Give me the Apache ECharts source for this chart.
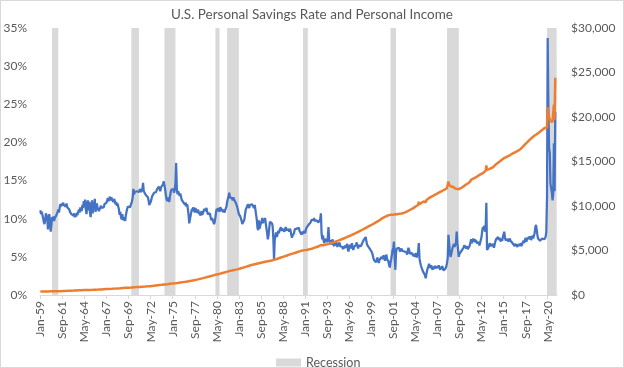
<!DOCTYPE html>
<html>
<head>
<meta charset="utf-8">
<script src="https://cdn.jsdelivr.net/npm/echarts@6/dist/echarts.min.js"></script>
<style>
  html, body { margin: 0; padding: 0; background: #fff; }
  #wrap { position: relative; width: 624px; height: 368px; }
  #chart { position: absolute; left: 0; top: 0; width: 624px; height: 368px; }
  #frame { position: absolute; left: 0; top: 0; width: 622px; height: 366px; border: 1px solid #d9d9d9; pointer-events: none; }
</style>
</head>
<body>
<div id="wrap"><div id="chart"></div><div id="frame"></div></div>
<script>
// ---- Data ----
const titleText = 'U.S. Personal Savings Rate and Personal Income';
const monthNames = ['Jan','Feb','Mar','Apr','May','Jun','Jul','Aug','Sep','Oct','Nov','Dec'];
const firstYear = 1959;
const categoryCount = 750; // monthly categories Jan-59 .. Jun-21
const tickLabels = ['Jan-59','Sep-61','May-64','Jan-67','Sep-69','May-72','Jan-75','Sep-77','May-80','Jan-83','Sep-85','May-88',
                    'Jan-91','Sep-93','May-96','Jan-99','Sep-01','May-04','Jan-07','Sep-09','May-12','Jan-15','Sep-17','May-20'];
const leftTicks = [0, 5, 10, 15, 20, 25, 30, 35];
const rightTicks = [0, 5000, 10000, 15000, 20000, 25000, 30000];

// Recession shading periods (category names)
const recessions = [
  ['Jun-60','Mar-61'], ['Jan-70','Dec-70'], ['Jan-74','May-75'], ['Mar-80','Sep-80'],
  ['Aug-81','Jan-83'], ['Oct-90','May-91'], ['May-01','Jan-02'], ['Mar-08','Aug-09'], ['Apr-20','Jun-21']
];

// Personal savings rate, %, one row per year (12 months)
const savingsRate = [
  [11.1,10.6,10.9,10.5,10.4,9.6,9.3,9.8,10.7,10.9,10.2,8.6],
  [9.9,10.6,9.4,8.3,9.1,10.2,9.8,10.3,9.7,10.1,9.9,10.4],
  [10.6,10.9,11.2,10.8,11.4,11.9,11.6,12.0,11.7,12.1,11.8,11.9],
  [11.8,11.6,12.0,11.5,11.3,11.7,11.2,10.9,11.0,10.6,10.8,10.5],
  [10.4,10.7,10.2,10.6,10.3,10.8,10.5,10.9,11.2,10.8,11.5,11.3],
  [11.0,11.8,11.4,12.3,11.6,12.5,11.2,10.6,11.9,12.4,11.1,12.2],
  [10.8,10.2,11.5,12.4,10.7,12.1,11.6,12.6,10.9,11.3,12.0,11.4],
  [11.3,11.0,10.8,11.2,11.7,11.4,11.6,11.2,11.5,11.9,11.7,12.0],
  [12.1,12.4,12.7,12.3,12.6,12.9,12.4,12.8,12.5,12.7,12.2,12.6],
  [12.3,11.9,12.2,11.7,12.0,11.8,11.2,10.5,10.9,10.2,9.9,10.6],
  [9.8,9.6,10.2,9.7,10.4,10.9,11.3,11.6,11.4,11.8,11.5,11.7],
  [12.0,12.3,12.8,13.9,13.2,13.5,13.7,13.3,13.6,13.4,13.8,13.5],
  [13.6,13.9,13.5,13.7,13.9,14.7,13.6,13.8,13.4,13.1,13.3,12.9],
  [12.8,12.4,11.8,11.6,12.2,12.5,12.9,13.1,12.7,13.4,13.2,13.6],
  [13.5,13.8,14.0,13.7,14.2,14.0,13.6,14.1,13.9,14.3,14.5,14.9],
  [14.8,13.9,13.2,12.6,12.3,12.8,12.5,12.2,12.9,13.4,13.8,14.0],
  [13.7,13.9,13.4,13.8,14.6,17.3,13.9,13.2,13.6,13.4,13.0,13.3],
  [12.9,12.5,12.7,12.2,12.4,12.0,11.8,12.1,11.6,11.9,11.3,10.5],
  [9.4,9.6,10.4,10.9,11.3,11.0,11.5,11.2,10.8,11.4,11.1,11.0],
  [10.8,11.2,10.6,10.9,10.4,10.7,11.0,10.5,10.8,10.9,11.3,11.0],
  [11.1,11.4,10.9,10.6,10.8,10.5,10.7,10.2,9.8,10.1,9.9,10.3],
  [9.3,9.6,10.2,10.9,11.3,11.0,11.4,11.2,10.9,11.5,11.3,11.2],
  [11.0,10.9,11.2,10.8,11.1,11.3,11.6,12.2,12.6,12.9,13.4,12.8],
  [12.6,13.0,12.7,12.4,12.8,12.5,12.3,12.6,12.0,11.7,11.4,11.0],
  [10.6,10.8,10.3,10.1,9.7,9.3,9.2,9.5,9.9,10.6,11.2,11.0],
  [11.6,11.9,11.7,11.4,11.8,12.0,11.6,11.9,12.1,11.7,11.4,11.8],
  [11.2,10.5,9.9,8.8,8.5,9.8,8.7,9.1,8.9,9.7,10.1,9.4],
  [9.9,9.6,10.1,9.4,9.2,8.1,7.3,7.8,8.0,9.6,9.8,9.5],
  [9.4,9.0,7.4,4.6,7.2,7.8,8.2,7.6,7.9,8.4,8.1,8.5],
  [8.6,8.9,8.4,8.7,8.5,8.8,8.3,8.6,8.9,8.5,8.7,8.4],
  [8.6,8.3,8.7,8.4,7.9,7.5,7.8,7.6,8.1,8.6,8.8,8.4],
  [8.7,8.9,8.5,8.8,8.4,8.6,8.2,7.9,8.3,8.0,8.4,8.2],
  [8.1,8.5,8.8,9.0,8.7,9.2,9.4,9.1,9.5,9.8,9.6,10.0],
  [9.8,10.1,9.7,9.9,9.6,9.8,10.0,9.5,9.7,9.4,9.9,10.7],
  [8.0,7.3,7.8,7.1,6.8,7.4,7.0,7.3,6.9,7.5,8.9,7.2],
  [6.9,7.2,6.6,6.9,7.3,6.7,6.4,6.8,6.5,7.0,6.6,6.3],
  [6.8,6.5,6.9,6.4,6.2,6.6,6.3,6.0,6.4,6.1,6.5,6.2],
  [6.3,6.7,6.0,5.7,6.2,6.6,6.1,6.4,6.8,6.2,5.9,6.3],
  [6.5,6.2,6.6,6.9,6.4,6.1,6.5,6.3,6.7,6.4,6.6,6.8],
  [7.0,7.2,7.4,7.1,7.6,7.0,6.6,6.8,6.3,6.5,6.1,5.9],
  [5.8,5.6,5.3,4.9,4.6,4.8,4.4,4.3,4.6,4.9,4.5,4.2],
  [4.6,4.4,4.8,5.0,4.7,4.9,5.2,4.8,4.5,4.9,5.3,4.7],
  [4.8,4.4,3.9,3.6,4.3,4.7,5.3,5.9,6.2,7.0,4.9,3.3],
  [5.6,6.1,6.3,5.9,6.2,6.0,5.7,5.9,6.1,5.8,5.6,5.9],
  [5.7,5.5,5.9,5.6,5.3,5.8,6.2,5.9,5.4,5.6,5.2,5.5],
  [5.3,5.1,5.4,5.0,5.2,5.5,4.9,5.3,5.6,6.8,4.8,4.3],
  [3.9,3.6,3.4,3.1,3.3,2.9,2.6,2.2,2.7,3.2,3.5,3.8],
  [4.1,3.8,3.5,3.9,3.6,3.3,3.7,3.4,3.8,4.0,3.6,3.5],
  [3.8,3.5,3.9,3.6,3.3,3.7,3.4,3.8,3.5,3.2,3.4,3.0],
  [3.5,3.8,4.2,4.9,7.9,6.8,5.6,5.0,5.3,5.8,6.2,6.4],
  [6.7,6.3,6.5,6.9,8.3,6.8,5.9,5.0,5.4,5.2,5.6,5.8],
  [6.0,5.8,6.2,6.5,6.3,6.6,6.1,6.4,6.0,5.9,6.2,6.5],
  [6.9,7.3,6.8,7.1,7.4,7.0,7.3,6.9,7.2,6.8,7.0,6.7],
  [6.9,6.5,6.7,6.4,7.6,8.4,8.9,8.6,9.1,8.3,8.8,12.1],
  [5.9,5.8,6.2,6.5,6.8,6.4,6.6,6.3,6.7,6.5,6.2,6.6],
  [7.0,7.3,7.1,7.4,7.6,7.2,7.5,7.3,7.0,7.4,7.1,7.6],
  [7.8,8.3,7.5,7.2,7.4,7.1,7.3,7.0,7.2,7.4,7.1,6.9],
  [7.1,6.8,7.0,6.6,6.4,6.7,6.9,6.5,6.3,6.6,6.8,6.4],
  [6.5,6.8,6.4,6.7,6.9,7.1,6.8,7.2,7.5,7.0,7.3,7.1],
  [7.4,7.6,7.3,7.7,7.2,7.5,7.8,7.4,7.6,8.1,8.8,9.2],
  [8.6,7.9,7.4,7.2,7.5,7.1,7.3,7.0,7.4,7.2,7.6,7.3],
  [7.3,7.6,8.3,12.8,33.7,24.5,19.2,18.7,14.6,14.0,13.4,12.4],
  [13.2,19.9,13.6,24.0]
];

// Personal income, $ billions, one row per year (12 months)
const personalIncome = [
  [383,385,388,390,392,394,395,394,396,398,400,402],
  [405,407,408,410,412,413,414,414,415,416,416,417],
  [418,420,423,426,429,432,435,438,441,445,449,452],
  [458,461,464,467,470,473,476,479,482,485,488,491],
  [494,497,500,503,507,511,514,518,521,525,528,532],
  [535,538,541,545,548,551,555,558,561,565,568,571],
  [574,577,580,584,587,591,595,599,603,606,609,612],
  [615,619,623,627,631,635,639,643,647,651,655,659],
  [663,667,671,675,679,683,687,691,695,700,705,710],
  [716,722,728,734,740,745,750,755,760,765,770,775],
  [788,793,798,803,808,813,818,823,828,833,838,843],
  [848,853,858,866,870,874,878,882,886,890,894,898],
  [906,912,918,926,932,938,942,946,950,955,960,966],
  [972,978,984,990,996,1000,1010,1020,1030,1044,1056,1068],
  [1080,1090,1100,1108,1116,1124,1132,1140,1150,1160,1170,1180],
  [1188,1196,1204,1212,1220,1230,1240,1250,1258,1266,1272,1278],
  [1290,1296,1302,1310,1322,1340,1338,1348,1360,1372,1384,1396],
  [1410,1422,1434,1446,1458,1470,1482,1494,1506,1520,1534,1548],
  [1562,1576,1590,1604,1618,1632,1648,1664,1680,1696,1712,1728],
  [1744,1762,1782,1802,1820,1838,1856,1876,1896,1916,1936,1956],
  [1976,1996,2016,2034,2052,2072,2092,2114,2136,2158,2180,2204],
  [2228,2250,2272,2284,2292,2304,2324,2350,2374,2400,2424,2446],
  [2466,2488,2510,2530,2550,2570,2600,2630,2652,2668,2680,2696],
  [2716,2732,2748,2764,2782,2800,2818,2834,2850,2868,2886,2906],
  [2940,2958,2978,3000,3024,3048,3072,3094,3116,3140,3166,3190],
  [3214,3240,3266,3290,3314,3338,3362,3386,3408,3428,3446,3464],
  [3482,3500,3518,3536,3554,3572,3590,3608,3626,3644,3662,3680],
  [3700,3716,3732,3746,3760,3774,3790,3806,3822,3838,3854,3870],
  [3890,3908,3926,3952,3978,4002,4026,4050,4076,4102,4130,4156],
  [4182,4208,4234,4260,4286,4312,4338,4364,4390,4416,4442,4470],
  [4500,4530,4560,4584,4606,4628,4652,4676,4700,4724,4748,4772],
  [4800,4830,4856,4880,4902,4924,4946,4968,4988,5004,5014,5022],
  [5030,5044,5060,5078,5096,5114,5132,5150,5170,5190,5210,5232],
  [5280,5304,5328,5352,5376,5400,5424,5448,5472,5496,5520,5620],
  [5540,5560,5580,5600,5620,5640,5660,5680,5700,5720,5742,5764],
  [5790,5814,5840,5866,5892,5918,5944,5970,5996,6022,6050,6078],
  [6110,6140,6170,6200,6230,6260,6290,6320,6350,6380,6410,6440],
  [6480,6514,6548,6582,6616,6650,6684,6718,6752,6786,6820,6854],
  [6890,6930,6970,7010,7050,7090,7130,7170,7210,7250,7290,7330],
  [7380,7420,7460,7500,7540,7580,7620,7660,7700,7740,7780,7820],
  [7860,7904,7948,7992,8036,8080,8124,8168,8212,8256,8300,8350],
  [8420,8470,8520,8570,8620,8660,8700,8740,8780,8820,8860,8900],
  [8940,8960,8980,8990,9000,9010,9020,9030,9000,9040,9050,9060],
  [9070,9080,9090,9100,9110,9120,9130,9140,9160,9180,9200,9220],
  [9260,9290,9320,9350,9390,9430,9470,9510,9550,9590,9630,9670],
  [9720,9770,9820,9870,9920,9970,10020,10070,10120,10480,10200,10260],
  [10310,10360,10410,10460,10510,10560,10610,10420,10660,10720,10780,10840],
  [10900,10950,11000,11040,11080,11120,11160,11200,11240,11280,11320,11360],
  [11420,11460,11500,11540,11580,11620,11660,11700,11740,11780,11820,11860],
  [11940,11980,12020,12060,12750,12380,12220,12180,12200,12220,12200,12140],
  [12080,12000,11960,11940,12150,11900,11880,11900,11920,11960,12000,12050],
  [12100,12140,12200,12260,12320,12380,12430,12480,12530,12580,12640,12700],
  [12900,12950,13000,13040,13080,13120,13160,13200,13240,13280,13320,13360],
  [13450,13500,13540,13580,13620,13660,13700,13740,13780,13850,13980,14550],
  [14050,14080,14110,14140,14180,14220,14260,14300,14340,14380,14420,14460],
  [14620,14680,14740,14800,14860,14920,14980,15040,15100,15160,15220,15280],
  [15340,15380,15420,15460,15500,15540,15580,15620,15660,15700,15740,15780],
  [15850,15890,15930,15970,16010,16050,16090,16130,16170,16210,16250,16290],
  [16350,16430,16510,16590,16670,16750,16830,16910,16990,17070,17150,17230],
  [17300,17370,17440,17510,17580,17650,17720,17790,17860,17920,17980,18040],
  [18060,18120,18180,18240,18300,18360,18420,18480,18540,18600,18660,18720],
  [18800,18860,18920,18750,21100,20300,19950,20050,19550,19750,19600,19450],
  [19600,21400,19700,24400]
];

// ---- Build chart ----
const categories = [];
for (let i = 0; i < categoryCount; i++) {
  const y = firstYear + Math.floor(i / 12);
  categories.push(monthNames[i % 12] + '-' + String(y % 100).padStart(2, '0'));
}
const savingsData = [].concat(...savingsRate);
const incomeData = [].concat(...personalIncome);
const recessionAreas = recessions.map(r => [
  { xAxis: categories.indexOf(r[0]) },
  { xAxis: categories.indexOf(r[1]) }
]);

const FONT = 'Lato';
const TXT = '#595959';
const chart = echarts.init(document.getElementById('chart'), null, { renderer: 'canvas' });
chart.setOption({
  animation: false,
  textStyle: { fontFamily: FONT },
  title: {
    text: titleText, left: 'center', top: 3,
    textStyle: { fontFamily: FONT, fontSize: 13.5, fontWeight: 'normal', color: TXT }
  },
  legend: {
    data: [{ name: 'Recession', icon: 'rect' }],
    left: 271, top: 351, itemWidth: 25, itemHeight: 8, itemGap: 5,
    textStyle: { fontFamily: FONT, fontSize: 12.5, color: TXT }
  },
  grid: { left: 40, right: 67, top: 28, bottom: 73 },
  xAxis: {
    type: 'category', data: categories, boundaryGap: true,
    axisLine: { lineStyle: { color: '#d9d9d9', width: 1 } },
    axisTick: {
      show: true, alignWithLabel: true, length: 4,
      interval: (idx, val) => tickLabels.indexOf(val) >= 0,
      lineStyle: { color: '#d9d9d9' }
    },
    axisLabel: {
      interval: (idx, val) => tickLabels.indexOf(val) >= 0,
      rotate: 90, margin: 6, color: TXT, fontFamily: FONT, fontSize: 12
    },
    splitLine: { show: false }
  },
  yAxis: [
    {
      type: 'value', min: leftTicks[0], max: leftTicks[leftTicks.length - 1], interval: 5,
      axisLine: { show: false }, axisTick: { show: false }, splitLine: { show: false },
      axisLabel: { formatter: '{value}%', color: TXT, fontFamily: FONT, fontSize: 12, margin: 13 }
    },
    {
      type: 'value', position: 'right', min: rightTicks[0], max: rightTicks[rightTicks.length - 1], interval: 5000,
      axisLine: { show: false }, axisTick: { show: false }, splitLine: { show: false },
      axisLabel: {
        formatter: v => '$' + v.toLocaleString('en-US'),
        color: TXT, fontFamily: FONT, fontSize: 12, margin: 14
      }
    }
  ],
  series: [
    {
      name: 'Recession', type: 'bar', data: [], z: 1,
      itemStyle: { color: '#d9d9d9' }
    },
    {
      name: 'Personal Savings Rate', type: 'line', yAxisIndex: 0, data: savingsData,
      showSymbol: false, symbol: 'none', sampling: null, z: 3,
      lineStyle: { color: '#4472C4', width: 2.25 }, itemStyle: { color: '#4472C4' },
      markArea: {
        silent: true, z: 1,
        itemStyle: { color: '#d9d9d9' },
        data: recessionAreas
      }
    },
    {
      name: 'Personal Income', type: 'line', yAxisIndex: 1, data: incomeData,
      showSymbol: false, symbol: 'none', z: 4,
      lineStyle: { color: '#ED7D31', width: 2.5 }, itemStyle: { color: '#ED7D31' }
    }
  ]
});
</script>
</body>
</html>
